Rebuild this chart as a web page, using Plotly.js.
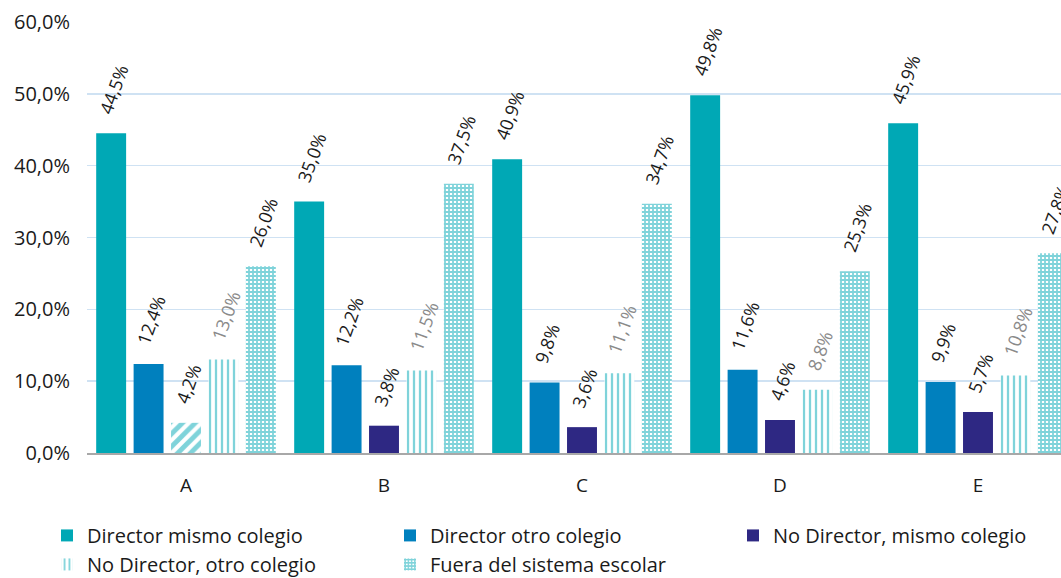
<!DOCTYPE html>
<html>
<head>
<meta charset="utf-8">
<script src="https://cdn.plot.ly/plotly-3.0.1.min.js"></script>
<style>
html,body{margin:0;padding:0;overflow:hidden;background:#fff;width:1061px;height:578px;}
#chart{width:1160px;height:600px;}
</style>
</head>
<body>
<div id="chart"></div>
<script>
var categories = ["A", "B", "C", "D", "E"];
var seriesNames = ["Director mismo colegio", "Director otro colegio", "No Director, mismo colegio", "No Director, otro colegio", "Fuera del sistema escolar"];
var directorMismo = [44.5, 35.0, 40.9, 49.8, 45.9];
var directorOtro = [12.4, 12.2, 9.8, 11.6, 9.9];
var noDirectorMismo = [4.2, 3.8, 3.6, 4.6, 5.7];
var noDirectorOtro = [13.0, 11.5, 11.1, 8.8, 10.8];
var fueraSistema = [26.0, 37.5, 34.7, 25.3, 27.8];
var yTicks = [0, 10, 20, 30, 40, 50, 60];

var TEAL = "#00a8b5", BLUE = "#0080be", NAVY = "#2e2883";
var FONT = "Open Sans, sans-serif";
var labelFont = {family: FONT, size: 18, color: "#1a1a1a"};
var PAD = "\u00a0\u00a0\u00a0";

function base(name, x, y, group) {
  return {
    type: "bar", name: name, x: x, y: y, offsetgroup: group, legendgroup: group,
    texttemplate: PAD + "%{y:.1f}%", textposition: "outside", textangle: -70,
    constraintext: "none", cliponaxis: false, textfont: labelFont,
    hoverinfo: "skip"
  };
}

var t1 = base(seriesNames[0], categories, directorMismo, "g1");
t1.marker = {color: TEAL};
var t2 = base(seriesNames[1], categories, directorOtro, "g2");
t2.marker = {color: BLUE};
// series 3: first category drawn hatched, the rest solid
var t3a = base(seriesNames[2], categories.slice(0, 1), noDirectorMismo.slice(0, 1), "g3");
t3a.showlegend = false;
t3a.marker = {color: "#ffffff", pattern: {shape: "/", fgcolor: TEAL, bgcolor: "#ffffff", size: 9, solidity: 0.55, fillmode: "overlay"}};
var t3 = base(seriesNames[2], categories.slice(1), noDirectorMismo.slice(1), "g3");
t3.marker = {color: NAVY};
var t4 = base(seriesNames[3], categories, noDirectorOtro, "g4");
t4.marker = {color: "#ffffff", pattern: {shape: "|", fgcolor: TEAL, bgcolor: "#ffffff", size: 6, solidity: 0.38, fillmode: "overlay"}};
t4.textfont = {family: FONT, size: 18, color: "#8a8a8a"};
var t5 = base(seriesNames[4], categories, fueraSistema, "g5");
t5.marker = {color: "#ffffff", pattern: {shape: "+", fgcolor: TEAL, bgcolor: "#ffffff", size: 4, solidity: 0.7, fillmode: "overlay"}};

var data = [t1, t2, t3a, t3, t4, t5];

var layout = {
  width: 1160, height: 600,
  margin: {l: 87, r: 83, t: 22, b: 147},
  paper_bgcolor: "#fff", plot_bgcolor: "#fff",
  barmode: "group", bargap: 0.055, bargroupgap: 0.2,
  separators: ",.",
  font: {family: FONT, size: 18, color: "#1a1a1a"},
  showlegend: true,
  legend: {orientation: "h", x: -0.0404, xanchor: "left", y: -0.146, yanchor: "top",
           entrywidth: 298, traceorder: "normal", font: {family: FONT, size: 20, color: "#1a1a1a"},
           itemwidth: 30, tracegroupgap: 0},
  xaxis: {type: "category", categoryorder: "array", categoryarray: categories,
          showline: true, linecolor: "#a8a8a8", linewidth: 2, ticks: "",
          tickfont: {family: FONT, size: 19, color: "#1a1a1a"}, ticklabelstandoff: 14,
          showgrid: false, fixedrange: true},
  yaxis: {range: [0, 60], tickvals: yTicks, ticktext: yTicks.map(function(v){return v.toFixed(1).replace(".", ",") + "%";}),
          showgrid: true, gridcolor: "#cfe2f3", gridwidth: 1.5, zeroline: false, ticks: "",
          tickfont: {family: FONT, size: 20, color: "#1a1a1a"}, ticklabelstandoff: 16, fixedrange: true}
};

Plotly.newPlot("chart", data, layout, {displayModeBar: false, staticPlot: true});
</script>
</body>
</html>
